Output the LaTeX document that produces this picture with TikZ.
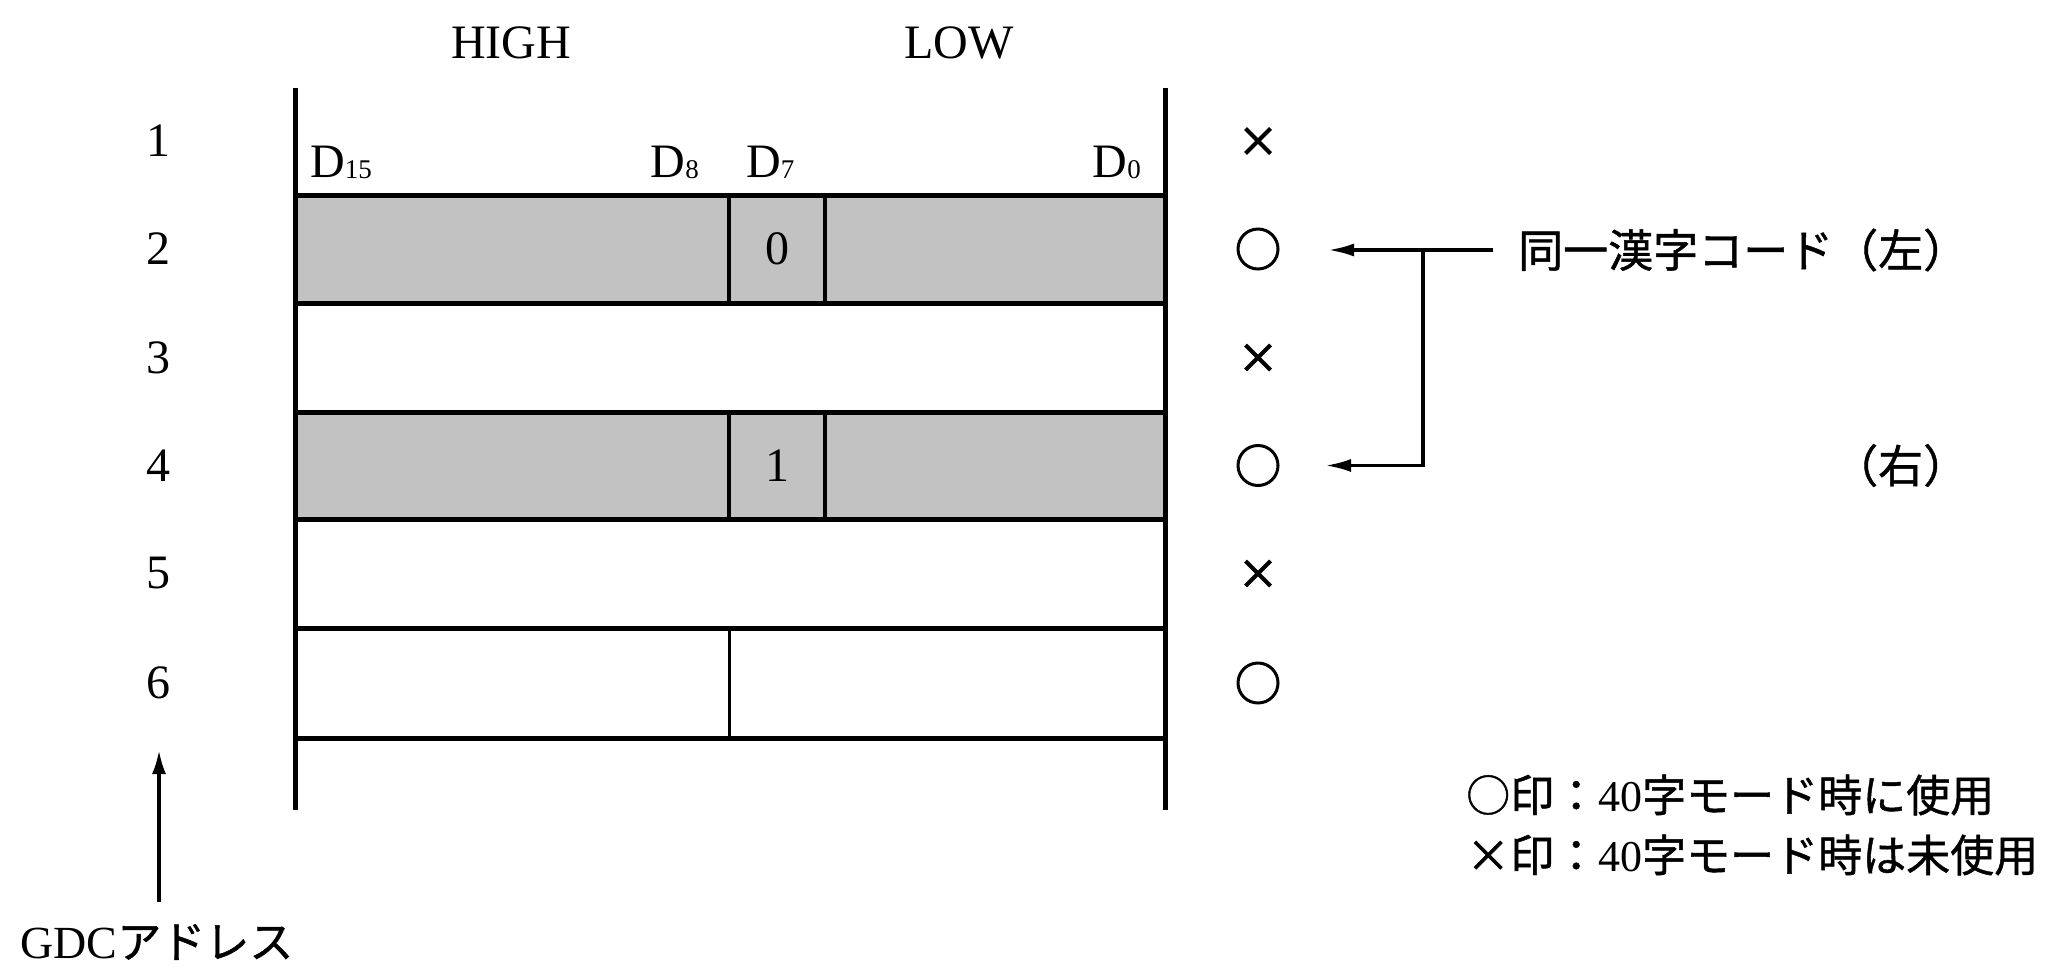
\documentclass[tikz,border=0pt]{standalone}
\usepackage{fontspec}
\setmainfont{Liberation Serif}
\newfontfamily\jp[FakeBold=1]{Noto Sans CJK JP}
\usetikzlibrary{shapes.misc,arrows.meta}
\definecolor{cellgray}{HTML}{C2C2C2}
\begin{document}
\begin{tikzpicture}[x=1pt,y=-1pt,
  lat/.style={font=\fontsize{48}{56}\selectfont, inner sep=0pt},
  jpt/.style={font=\jp\fontsize{45}{52}\selectfont, inner sep=0pt},
  legend/.style={font=\jp\fontsize{44}{52}\selectfont, inner sep=0pt},
  rule/.style={line width=5pt},
  sep/.style={line width=4pt},
  thinsep/.style={line width=3pt},
  okmark/.style={circle, draw, line width=3pt, minimum size=40pt, inner sep=0pt},
  ngmark/.style={cross out, draw, line width=4pt, minimum size=21pt, inner sep=0pt},
  arr/.style={line width=3.5pt, -{Latex[length=26pt,width=13pt]}}
]
\useasboundingbox (0,0) rectangle (2055,967);

% shaded rows
\fill[cellgray] (295,195) rectangle (1165,303);
\fill[cellgray] (295,412) rectangle (1165,519);

% column separators
\draw[sep] (729,195) -- (729,303);
\draw[sep] (825,195) -- (825,303);
\draw[sep] (729,412) -- (729,519);
\draw[sep] (825,412) -- (825,519);
\draw[thinsep] (729,628) -- (729,738);

% horizontal rules
\foreach \yy in {195,303,412,519,628,738}
  \draw[rule] (295,\yy) -- (1165,\yy);

% vertical rules
\draw[rule] (295,88) -- (295,810);
\draw[rule] (1165,88) -- (1165,810);

% header
\node[lat] (high) at (511,43) {HIGH};
\node[lat] (low) at (959,43) {LOW};

% bit labels
\node[lat, anchor=base west] (d15) at (310,177) {D\raisebox{-1pt}{\fontsize{27}{27}\selectfont 15}};
\node[lat, anchor=base east] (d8) at (699,177) {D\raisebox{-1pt}{\fontsize{27}{27}\selectfont 8}};
\node[lat, anchor=base west] (d7) at (746,177) {D\raisebox{-1pt}{\fontsize{27}{27}\selectfont 7}};
\node[lat, anchor=base east] (d0) at (1141,177) {D\raisebox{-1pt}{\fontsize{27}{27}\selectfont 0}};

% cell bits
\node[lat] (b0) at (777,249) {0};
\node[lat] (b1) at (777,465.5) {1};

% row numbers
\node[lat] (r1) at (158,141) {1};
\node[lat] (r2) at (158,249) {2};
\node[lat] (r3) at (158,357.5) {3};
\node[lat] (r4) at (158,465.5) {4};
\node[lat] (r5) at (158,573.5) {5};
\node[lat] (r6) at (158,683) {6};

% marks
\node[ngmark] (m1) at (1258,141) {};
\node[okmark] (m2) at (1258,249) {};
\node[ngmark] (m3) at (1258,357.5) {};
\node[okmark] (m4) at (1258,465.5) {};
\node[ngmark] (m5) at (1258,573.5) {};
\node[okmark] (m6) at (1258,683) {};

% same kanji code labels
\node[jpt, anchor=west] (lbl) at (1518,250) {同一漢字コード（左）};
\node[jpt, anchor=east] (rlbl) at (lbl.east |- 0,465.5) {（右）};

\coordinate (t2) at (1328,250);
\coordinate (t4) at (1325,465.5);
\coordinate (jn) at (1423,250);
\draw[arr] ([xshift=-25pt]lbl.west) -- (t2);
\draw[arr] (jn) |- (t4);

% GDC address
\node[anchor=base west, inner sep=0pt] (gdc) at (20,958) {\fontsize{46}{52}\selectfont GDC{\jp\fontsize{44}{50}\selectfont アドレス}};
\coordinate (g1) at (159,902);
\coordinate (g2) at (159,750);
\draw[line width=3.5pt, -{Latex[length=24pt,width=14pt]}] (g1) -- (g2);

% legend
\node[legend, anchor=west] (leg1) at (1466,795) {○印：{\rmfamily 40}字モード時に使用};
\node[legend, anchor=west] (leg2) at (1466,855) {×印：{\rmfamily 40}字モード時は未使用};
\end{tikzpicture}
\end{document}
